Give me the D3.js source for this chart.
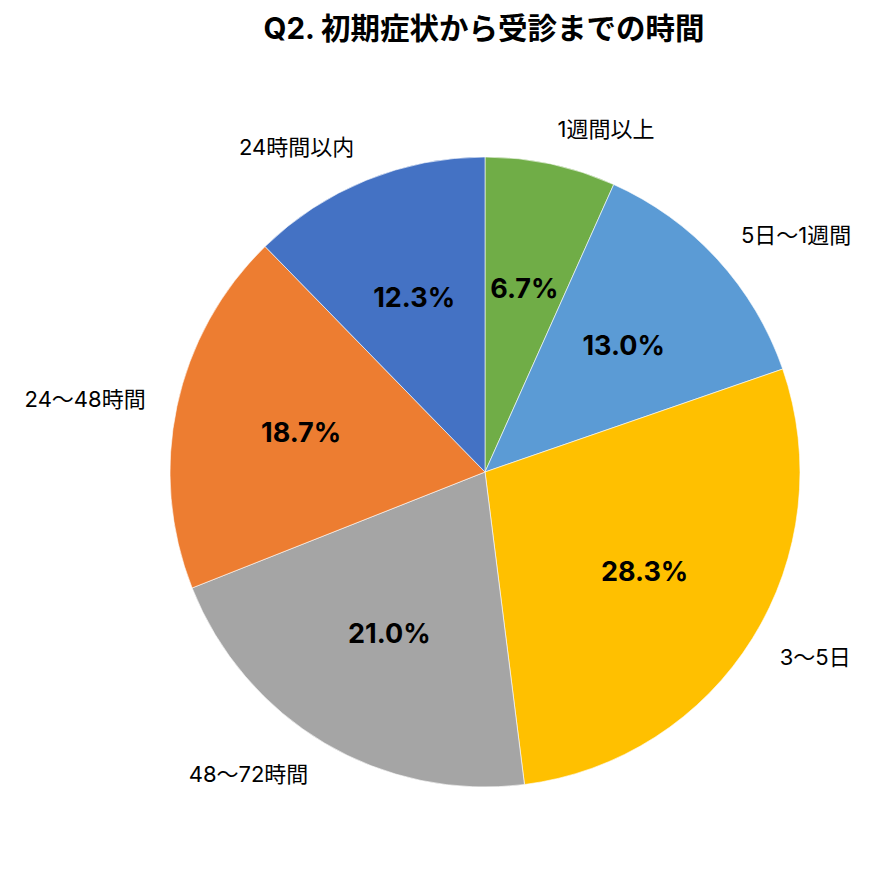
<!DOCTYPE html>
<html lang="ja">
<head>
  <meta charset="UTF-8" />
  <title>Q2. 初期症状から受診までの時間</title>
  <script src="https://d3js.org/d3.v7.min.js"></script>
  <style>
    body { margin: 0; background: #fff; }
    svg { display: block; font-family: Inter, "Noto Sans CJK JP", "Noto Sans", sans-serif; }
  </style>
</head>
<body>
  <svg width="894" height="883"></svg>
  <script>
    const categories = ["1週間以上", "5日〜1週間", "3〜5日", "48〜72時間", "24〜48時間", "24時間以内"];
    const values = [6.7, 13.0, 28.3, 21.0, 18.7, 12.3];
    const colors = ["#70AD47", "#5B9BD5", "#FFC000", "#A5A5A5", "#ED7D31", "#4472C4"];
    const title = "Q2. 初期症状から受診までの時間";

    const svg = d3.select("svg");
    const cx = 485, cy = 472, R = 315;

    svg.append("text")
      .attr("x", 484)
      .attr("y", 39)
      .attr("text-anchor", "middle")
      .attr("font-size", 29.5)
      .attr("font-weight", "bold")
      .text(title);

    const data = categories.map((c, i) => ({ cat: c, val: values[i], color: colors[i] }));

    const pie = d3.pie().value(d => d.val).sort(null);
    const arcs = pie(data);
    const arc = d3.arc().innerRadius(0).outerRadius(R);
    const inner = d3.arc().innerRadius(188).outerRadius(188);
    const outer = d3.arc().innerRadius(R + 32).outerRadius(R + 32);

    const g = svg.append("g").attr("transform", `translate(${cx},${cy})`);

    g.selectAll("path")
      .data(arcs)
      .join("path")
      .attr("d", arc)
      .attr("fill", d => d.data.color)
      .attr("stroke", "#fff")
      .attr("stroke-width", 0.6);

    g.selectAll("text.pct")
      .data(arcs)
      .join("text")
      .attr("class", "pct")
      .attr("x", d => inner.centroid(d)[0])
      .attr("y", d => inner.centroid(d)[1])
      .attr("dy", "0.35em")
      .attr("text-anchor", "middle")
      .attr("font-size", 27)
      .attr("font-weight", "bold")
      .text(d => d.data.val.toFixed(1) + "%");

    g.selectAll("text.lbl")
      .data(arcs)
      .join("text")
      .attr("class", "lbl")
      .attr("x", d => outer.centroid(d)[0])
      .attr("y", d => {
        const a = (d.startAngle + d.endAngle) / 2;
        return outer.centroid(d)[1] + 8 - Math.cos(a) * 4;
      })
      .attr("text-anchor", d => {
        const a = (d.startAngle + d.endAngle) / 2;
        return Math.sin(a) > 0 ? "start" : "end";
      })
      .attr("font-size", 22)
      .text(d => d.data.cat);
  </script>
</body>
</html>
